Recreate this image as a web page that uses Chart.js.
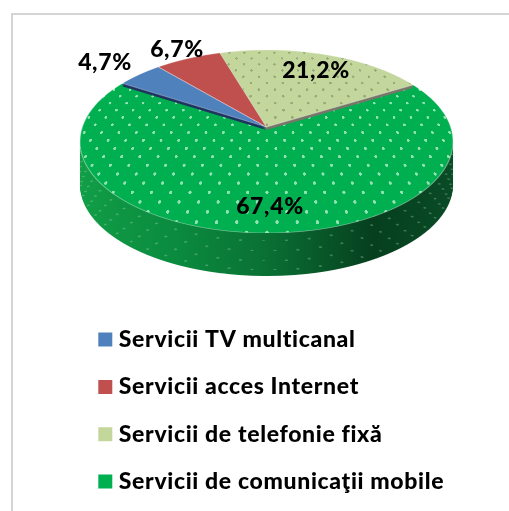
<!DOCTYPE html>
<html>
<head>
<meta charset="utf-8">
<style>
html,body{margin:0;padding:0;background:#fff;overflow:hidden}
#wrap{position:relative;width:509px;height:511px}
#frame{position:absolute;left:11px;top:13px;right:-5px;bottom:-5px;border-left:2px solid #d4d4d4;border-top:2px solid #d4d4d4}
canvas{position:absolute;left:0;top:0;filter:blur(0.5px)}
</style>
<script src="https://cdn.jsdelivr.net/npm/chart.js@4"></script>
</head>
<body>
<div id="wrap"><div id="frame"></div><canvas id="c" width="509" height="511"></canvas></div>
<script>
const categories = ["Servicii TV multicanal","Servicii acces Internet","Servicii de telefonie fixă","Servicii de comunicaţii mobile"];
const shares = [4.7, 6.7, 21.2, 67.4];
const sliceColors = ["#4f81bd","#c0504d","#c3d69b","#00b050"];
const edgeColors = ["#1f3560","#7a2a28","#77776a","#0a7034"];
const labelSpots = [[105,63],[177,50],[316,71],[270,207]];

const view = {cx:266.5, top:50, bottom:233, apexY:127, halfWidth:186.5, depth:43, rise:3};
const pc = (2*view.apexY - view.top - view.bottom)/(view.bottom - view.top);
const pa = view.apexY - view.top + view.top*pc;
const pb = view.apexY;
const midY = (view.top + view.bottom)/2;
const midV = (midY - pb)/(pa - pc*midY);
const pe = view.halfWidth*(pc*midV+1)/Math.sqrt(1-midV*midV);

function dotted(base, dot, w, h){
  const t = document.createElement('canvas'); t.width = 72; t.height = 64;
  const g = t.getContext('2d');
  g.fillStyle = base; g.fillRect(0,0,72,64);
  g.fillStyle = dot;
  [[18,16],[54,48]].forEach(p=>{g.beginPath();g.ellipse(p[0],p[1],6,6,0,0,Math.PI*2);g.fill();});
  const pat = g.createPattern(t,'repeat');
  pat.setTransform(new DOMMatrix().scale(w/72,h/64));
  return pat;
}

const projected3d = {
  id:'projected3d',
  beforeLayout(chart){ chart.ctx.letterSpacing = '0.65px'; },
  beforeDatasetsDraw(chart){
    const ctx = chart.ctx, arcs = chart.getDatasetMeta(0).data;
    const R = arcs[0].outerRadius, W = chart.width;
    const rows = (arc, from, to, dy) => {
      for(let y=from; y<to; y++){
        const v = (y+.5-pb)/(pa-pc*(y+.5));
        const den = pc*v+1, k = pe/den, s = (pa-pb*pc)/(den*den);
        ctx.save();
        ctx.beginPath(); ctx.rect(0,y+dy,W,1); ctx.clip();
        ctx.translate(view.cx, y+.5+dy);
        ctx.scale(k/R, s/R);
        ctx.translate(-arc.x, -arc.y - v*R);
        arc.draw(ctx);
        ctx.restore();
      }
    };
    const withOpts = (arc, over, fn) => {
      const o = arc.options;
      arc.options = Object.assign(Object.create(o), over);
      fn(); arc.options = o;
    };
    const green = arcs[3];
    const wall = ctx.createLinearGradient(green.x-R,0,green.x+R,0);
    wall.addColorStop(0,'#12a048'); wall.addColorStop(.3,'#0a8a3e');
    wall.addColorStop(.5,'#0a7034'); wall.addColorStop(.75,'#063f1e'); wall.addColorStop(1,'#0a4d27');
    withOpts(green,{backgroundColor:wall,borderWidth:0},()=>{
      for(let d=view.depth; d>=1; d--) rows(green, Math.round(midY), view.bottom, d);
    });
    [[8,0],[18,8],[28,0],[37,8]].forEach(([d,off])=>{
      withOpts(green,{backgroundColor:'rgba(0,0,0,0)',borderWidth:2,borderColor:'rgba(190,230,200,.3)',borderDash:[2,14],borderDashOffset:off},()=>{
        rows(green, Math.round(midY), view.bottom, d);
      });
    });
    rows(green, view.top, view.bottom, 0);
    [0,2].forEach(i=>{
      withOpts(arcs[i],{backgroundColor:edgeColors[i],borderWidth:0},()=>{
        for(let d=view.rise; d>=1; d--) rows(arcs[i], view.top, view.apexY+2, d);
      });
    });
    [0,1,2].forEach(i=>rows(arcs[i], view.top, view.apexY+2, 0));

    ctx.save();
    ctx.fillStyle = '#000';
    ctx.font = '900 23px Lato';
    ctx.textAlign = 'center'; ctx.textBaseline = 'middle';
    shares.forEach((v,i)=>ctx.fillText(v.toFixed(1).replace('.',',')+'%', labelSpots[i][0], labelSpots[i][1]));
    ctx.restore();
    return false;
  }
};

const ctx0 = document.getElementById('c').getContext('2d');
const estR = 145;
const fills = [sliceColors[0], sliceColors[1],
  dotted(sliceColors[2],'#98a97a',18*estR/184,16*estR/90),
  dotted(sliceColors[3],'#8fe2b0',18*estR/184,16*estR/90)];

new Chart(ctx0,{
  type:'pie',
  data:{labels:categories,datasets:[{data:shares,backgroundColor:fills,borderWidth:.8,borderColor:'rgba(255,255,255,.45)'}]},
  plugins:[projected3d],
  options:{
    responsive:false,animation:false,devicePixelRatio:1,rotation:-58,
    layout:{padding:{left:79,bottom:8,top:0,right:0}},
    plugins:{
      tooltip:{enabled:false},
      legend:{
        position:'bottom',align:'start',
        labels:{
          color:'#000',font:{family:'Lato',size:23,weight:'900'},
          boxWidth:4,boxHeight:4,padding:24.3,
          generateLabels:()=>categories.map((t,i)=>({text:t,fillStyle:sliceColors[i],strokeStyle:sliceColors[i],lineWidth:10,index:i,hidden:false}))
        }
      }
    }
  }
});
</script>
</body>
</html>
